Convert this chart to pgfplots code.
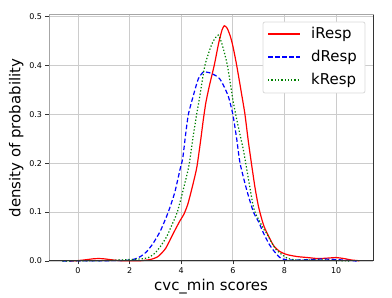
\documentclass[border=0pt]{standalone}
\usepackage{pgfplots}
\pgfplotsset{compat=1.18}
\usepackage{fontspec}
\setmainfont{DejaVu Sans}
\definecolor{mplgreen}{RGB}{0,128,0}
\begin{document}
\begin{tikzpicture}
\begin{axis}[
  scale only axis,
  width=324bp, height=246bp,
  xmin=-1.12, xmax=11.43, ymin=0, ymax=0.503,
  xtick={0,2,4,6,8,10},
  ytick={0,0.1,0.2,0.3,0.4,0.5},
  /pgf/number format/assume math mode=true,
  yticklabel style={/pgf/number format/.cd,fixed,fixed zerofill,precision=1},
  ticklabel style={font=\fontsize{8}{9}\selectfont},
  tick align=outside,
  tick pos=left,
  major tick length=3.5bp,
  tick style={black!80, line width=0.6pt},
  grid=major,
  major grid style={gray!40, line width=0.7pt},
  axis line style={gray!70, line width=1pt},
  xlabel={cvc\_min scores},
  ylabel={density of probability},
  label style={font=\fontsize{15}{17}\selectfont},
  xlabel style={yshift=2bp},
  ylabel style={yshift=-1bp},
  clip=false,
]
\addplot[color=red, line width=1.2pt, smooth, tension=0.4] coordinates {
(-0.3,0) (0.0,0.0008) (0.3,0.0025) (0.6,0.0045) (0.8,0.005) (1.0,0.0045) (1.3,0.0025) (1.6,0.0008) (2.0,0.0002) (2.4,0.0005) (2.8,0.003) (3.1,0.009) (3.4,0.026) (3.7,0.057) (3.95,0.082) (4.1,0.095) (4.25,0.115) (4.4,0.145) (4.6,0.19) (4.75,0.245) (4.86,0.29) (4.96,0.325) (5.1,0.36) (5.28,0.4) (5.45,0.445) (5.58,0.472) (5.67,0.481) (5.78,0.476) (5.9,0.46) (6.0,0.44) (6.15,0.4) (6.38,0.329) (6.47,0.3) (6.6,0.245) (6.72,0.2) (6.86,0.15) (7.0,0.11) (7.2,0.072) (7.44,0.045) (7.6,0.03) (7.83,0.019) (8.1,0.013) (8.5,0.009) (8.9,0.007) (9.3,0.005) (9.7,0.006) (10.0,0.007) (10.3,0.005) (10.6,0.002) (10.9,0.0005)
};
\addplot[color=blue, line width=1.2pt, dash pattern=on 4.5bp off 2.5bp, smooth, tension=0.4] coordinates {
(-0.6,0) (0,0.0003) (1.0,0.0005) (1.6,0.001) (2.0,0.002) (2.2,0.004) (2.45,0.01) (2.66,0.019) (2.9,0.035) (3.05,0.048) (3.2,0.062) (3.5,0.1) (3.75,0.14) (3.95,0.186) (4.06,0.21) (4.17,0.258) (4.28,0.3) (4.47,0.338) (4.66,0.372) (4.85,0.386) (5.0,0.386) (5.15,0.384) (5.37,0.378) (5.5,0.372) (5.63,0.36) (5.83,0.336) (6.0,0.3) (6.15,0.25) (6.28,0.2) (6.54,0.145) (6.8,0.1) (7.0,0.08) (7.18,0.058) (7.4,0.035) (7.57,0.022) (7.8,0.008) (8.0,0.003) (8.5,0.002) (9.0,0.003) (9.5,0.004) (10.0,0.003) (10.5,0.001) (10.8,0)
};
\addplot[color=mplgreen, line width=1.2pt, dash pattern=on 1.3bp off 2bp, smooth, tension=0.4] coordinates {
(-0.6,0) (0,0.0003) (1.0,0.0008) (1.6,0.002) (2.0,0.003) (2.4,0.004) (2.73,0.007) (2.98,0.016) (3.2,0.03) (3.44,0.05) (3.65,0.075) (3.85,0.1) (4.1,0.15) (4.3,0.195) (4.45,0.25) (4.6,0.3) (4.7,0.33) (4.92,0.4) (5.2,0.445) (5.44,0.462) (5.6,0.44) (5.79,0.4) (6.0,0.33) (6.15,0.29) (6.28,0.258) (6.41,0.227) (6.5,0.2) (6.8,0.11) (7.0,0.085) (7.22,0.063) (7.31,0.057) (7.5,0.038) (7.7,0.022) (8.1,0.006) (8.5,0.002) (9.0,0.002) (9.5,0.002) (10.0,0.001) (10.5,0)
};
\draw[black!80, line width=1pt] (rel axis cs:0,0) -- (rel axis cs:1,0) -- (rel axis cs:1,1);
% legend
\draw[gray!30, fill=white, rounded corners=2bp, line width=0.8pt] ([xshift=-110bp,yshift=-7bp]rel axis cs:1,1) rectangle ([xshift=-8bp,yshift=-78bp]rel axis cs:1,1);
\draw[red, line width=1.2pt] ([xshift=-105bp,yshift=-19bp]rel axis cs:1,1) -- ([xshift=-73bp,yshift=-19bp]rel axis cs:1,1);
\draw[blue, line width=1.2pt, dash pattern=on 4.5bp off 2.5bp] ([xshift=-105bp,yshift=-42bp]rel axis cs:1,1) -- ([xshift=-73bp,yshift=-42bp]rel axis cs:1,1);
\draw[mplgreen, line width=1.2pt, dash pattern=on 1.3bp off 2bp] ([xshift=-105bp,yshift=-65bp]rel axis cs:1,1) -- ([xshift=-73bp,yshift=-65bp]rel axis cs:1,1);
\node[anchor=west, inner sep=0pt, font=\fontsize{15}{17}\selectfont] at ([xshift=-62bp,yshift=-19bp]rel axis cs:1,1) {iResp};
\node[anchor=west, inner sep=0pt, font=\fontsize{15}{17}\selectfont] at ([xshift=-62bp,yshift=-42bp]rel axis cs:1,1) {dResp};
\node[anchor=west, inner sep=0pt, font=\fontsize{15}{17}\selectfont] at ([xshift=-62bp,yshift=-65bp]rel axis cs:1,1) {kResp};
\path ([xshift=-49bp,yshift=-33bp]rel axis cs:0,0) rectangle ([xshift=19bp,yshift=15bp]rel axis cs:1,1);
\end{axis}
\end{tikzpicture}
\end{document}
